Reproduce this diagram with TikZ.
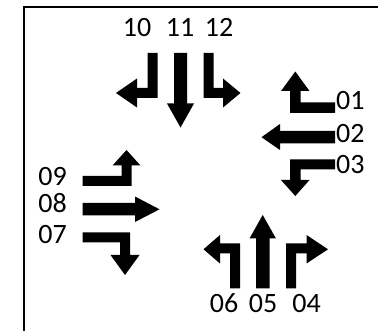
\documentclass[tikz,border=0pt]{standalone}
\usepackage{fontspec}
\setmainfont{Carlito}
\begin{document}
\begin{tikzpicture}[x=1pt,y=-1pt,
  lbl/.style={inner sep=0pt,font=\fontsize{28}{28}\selectfont,text height=0.63em,text depth=0pt},
  arr/.style={fill=black,draw=none}]
\useasboundingbox (0,0) rectangle (378,331);
\draw[line width=2.4pt] (24,331) -- (24,7) -- (378,7);
% top group (10 11 12)
\fill[arr] (157.5,53) -- (157.5,98) -- (137,98) -- (137,107.5) -- (116,93) -- (137,78.5) -- (137,88) -- (147.5,88) -- (147.5,53) -- cycle;
\fill[arr] (174,53) -- (187,53) -- (187,103.5) -- (194,103.5) -- (180.5,127.5) -- (167,103.5) -- (174,103.5) -- cycle;
\fill[arr] (203.5,53) -- (213.5,53) -- (213.5,88) -- (223,88) -- (223,78.5) -- (240.5,93) -- (223,107.5) -- (223,98) -- (203.5,98) -- cycle;
\node[lbl] (l10) at (137,33.5) {10};
\node[lbl] (l11) at (180,33.5) {11};
\node[lbl] (l12) at (219,33.5) {12};
% right group (01 02 03)
\fill[arr] (335,102.5) -- (335,113) -- (290,113) -- (290,91) -- (281,91) -- (295.3,71.5) -- (309.5,91) -- (300.5,91) -- (300.5,102.5) -- cycle;
\fill[arr] (335,131) -- (335,143.5) -- (280,143.5) -- (280,150) -- (261.5,137.2) -- (280,124) -- (280,131) -- cycle;
\fill[arr] (335,159.5) -- (335,169.5) -- (300.5,169.5) -- (300.5,180) -- (309.5,180) -- (295.3,196) -- (281,180) -- (290,180) -- (290,159.5) -- cycle;
\node[lbl,anchor=west] (l01) at (336,106) {01};
\node[lbl,anchor=west] (l02) at (336,139) {02};
\node[lbl,anchor=west] (l03) at (336,170.5) {03};
% left group (09 08 07)
\fill[arr] (82.5,176) -- (121.5,176) -- (121.5,165.5) -- (112.5,165.5) -- (126.5,150) -- (140.5,165.5) -- (131.5,165.5) -- (131.5,186) -- (82.5,186) -- cycle;
\fill[arr] (82.5,203) -- (135,203) -- (135,196.5) -- (159.5,209.3) -- (135,222) -- (135,215.5) -- (82.5,215.5) -- cycle;
\fill[arr] (82.5,232.5) -- (130,232.5) -- (130,255) -- (139.5,255) -- (125,275) -- (110.5,255) -- (120,255) -- (120,242.5) -- (82.5,242.5) -- cycle;
\node[lbl,anchor=east] (l09) at (67,182.5) {09};
\node[lbl,anchor=east] (l08) at (67,209.5) {08};
\node[lbl,anchor=east] (l07) at (67,240.5) {07};
% bottom group (06 05 04)
\fill[arr] (240,288.5) -- (240,243.5) -- (220,243.5) -- (220,235) -- (203.5,249.3) -- (220,263.5) -- (220,253.5) -- (230,253.5) -- (230,288.5) -- cycle;
\fill[arr] (256,288.5) -- (256,238.5) -- (249.5,238.5) -- (262.7,215) -- (276,238.5) -- (269.5,238.5) -- (269.5,288.5) -- cycle;
\fill[arr] (286,288.5) -- (286,243.5) -- (306.5,243.5) -- (306.5,235) -- (328,249.3) -- (306.5,263.5) -- (306.5,253.5) -- (296,253.5) -- (296,288.5) -- cycle;
\node[lbl] (l06) at (224,309) {06};
\node[lbl] (l05) at (263,309) {05};
\node[lbl] (l04) at (306.5,309) {04};
\end{tikzpicture}
\end{document}
